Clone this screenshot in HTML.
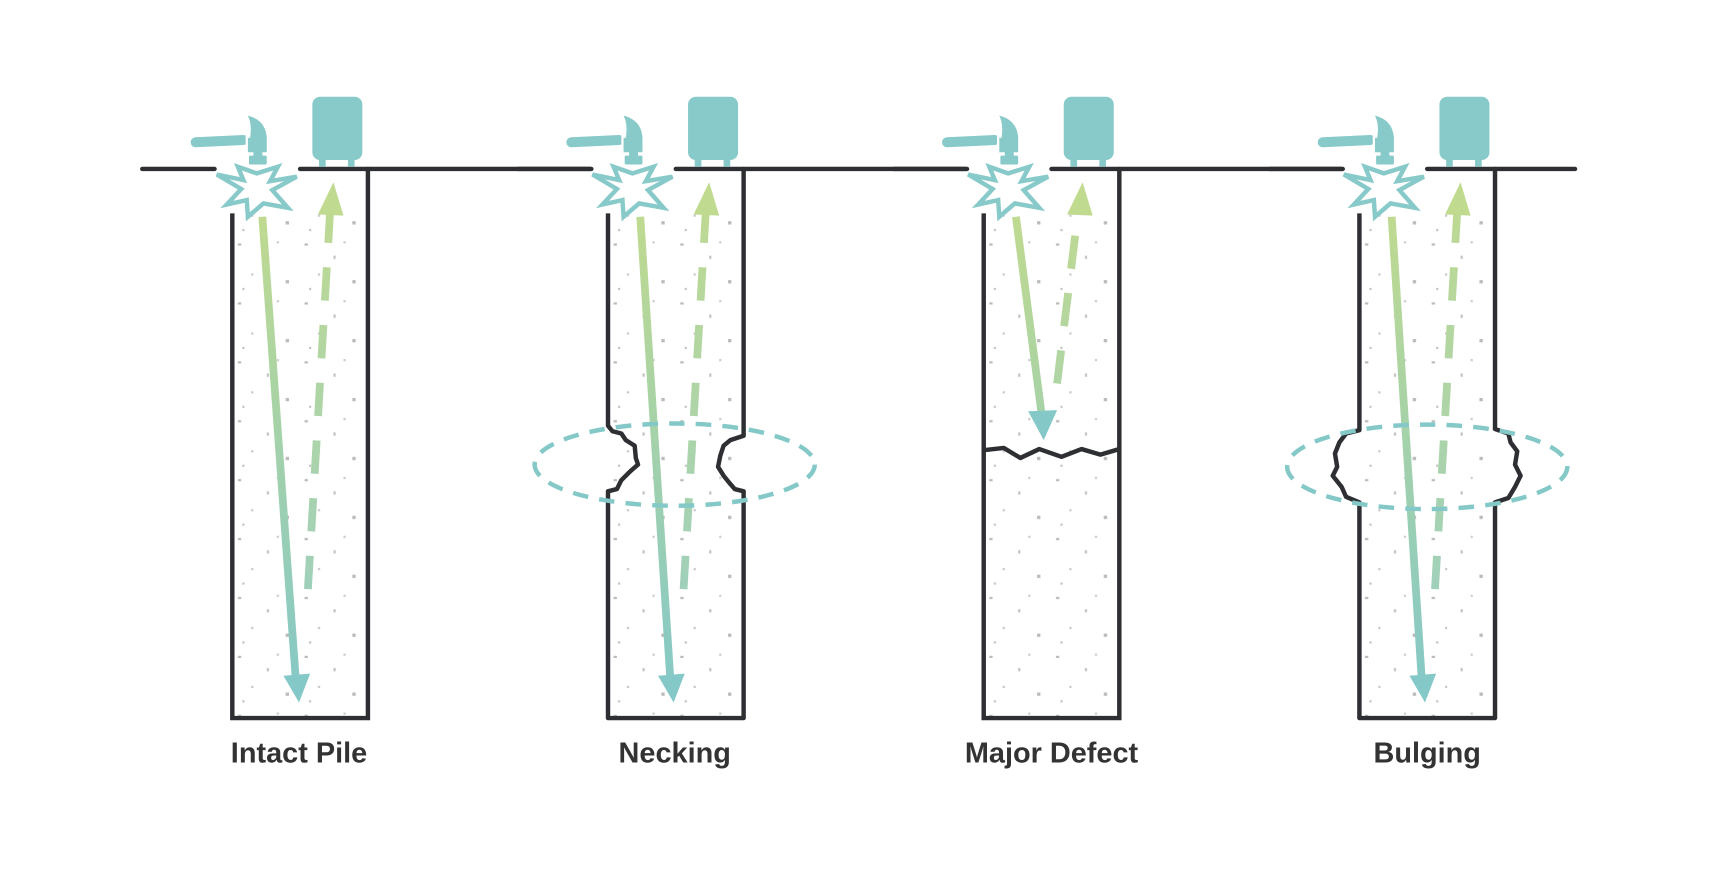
<!DOCTYPE html>
<html><head><meta charset="utf-8"><style>html,body{margin:0;padding:0;background:#fff}svg{display:block}</style></head>
<body>
<svg width="1734" height="892" viewBox="0 0 1560 802.5" preserveAspectRatio="none" xmlns="http://www.w3.org/2000/svg">
<defs>
<linearGradient id="gd" gradientUnits="userSpaceOnUse" x1="0" y1="190" x2="0" y2="630">
<stop offset="0" stop-color="#c0da8f"/><stop offset="1" stop-color="#84c8c8"/></linearGradient>
<linearGradient id="gu" gradientUnits="userSpaceOnUse" x1="0" y1="540" x2="0" y2="160">
<stop offset="0" stop-color="#9fd0bb"/><stop offset="1" stop-color="#c0da8f"/></linearGradient>
<pattern id="sp" width="60" height="53" patternUnits="userSpaceOnUse">
<rect x="5" y="7" width="3" height="2" fill="#bbb"/><rect x="31" y="18" width="2" height="3" fill="#c4c4c4"/>
<rect x="48" y="40" width="3" height="3" fill="#bbb"/><rect x="17" y="34" width="2" height="2" fill="#c8c8c8"/>
<rect x="40" y="5" width="2" height="2" fill="#ccc"/><rect x="9" y="47" width="2" height="2" fill="#c4c4c4"/>
</pattern>
<g id="top">
<rect x="0" y="192" width="122" height="454" fill="url(#sp)"/>
<line x1="-81" y1="152" x2="-16" y2="152" stroke="#2e2f33" stroke-width="4" stroke-linecap="round"/>
<line x1="61" y1="152" x2="122" y2="152" stroke="#2e2f33" stroke-width="4" stroke-linecap="round"/>
<!-- hammer -->
<line x1="-33" y1="128" x2="10" y2="126" stroke="#88c9c9" stroke-width="9" stroke-linecap="round"/>
<path d="M14,104 Q30,108 31,124 L31,137 L13,137 L13,124 L16,124 Q18,112 14,104 Z" fill="#88c9c9"/>
<rect x="12" y="122" width="2" height="15" fill="#fff"/>
<rect x="19" y="136" width="8" height="5" fill="#88c9c9"/>
<rect x="15" y="140" width="16" height="8" rx="1" fill="#88c9c9"/>
<!-- star -->
<polygon points="-14,157 10,162 5,150 22,156 41,150 34,163 58,159 36,171 50,187 28,183 14,195 13,180 -5,184 8,170" fill="#fff" stroke="#88c9c9" stroke-width="4" stroke-linejoin="miter"/>
<!-- device -->
<rect x="72" y="87" width="45" height="57" rx="7" fill="#88c9c9"/>
<rect x="78" y="140" width="6" height="10" fill="#88c9c9"/><rect x="104" y="140" width="6" height="10" fill="#88c9c9"/>
</g>
</defs>

<g font-family="Liberation Sans, sans-serif" font-weight="bold" font-size="26" fill="#333" text-anchor="middle">
<text x="269" y="686">Intact Pile</text>
<text x="607" y="686">Necking</text>
<text x="946" y="686">Major Defect</text>
<text x="1284" y="686">Bulging</text>
</g>

<!-- Pile 1 -->
<g transform="translate(209,0)">
<use href="#top"/>
<path d="M0,192 V646 H122 V152" fill="none" stroke="#2e2f33" stroke-width="4"/>
<line x1="27" y1="195" x2="57" y2="610" stroke="url(#gd)" stroke-width="7"/>
<polygon points="46,608 70,606 60,632" fill="#84c8c8"/>
<line x1="68" y1="530" x2="88" y2="190" stroke="url(#gu)" stroke-width="7" stroke-dasharray="30,22"/>
<polygon points="77,193 100,194 91,164" fill="#c0da8f"/>
</g>

<!-- Pile 2 Necking -->
<g transform="translate(547,0)">
<use href="#top"/>
<path d="M0,192 V383 L4,388 L12,390 L16,396 L24,401 L25,412 L27,418 L20,424 L12,432 L8,440 L0,442 V646 H122 V442 L114,440 L108,433 L104,428 L99,420 L101,410 L104,401 L110,396 L122,392 V152" fill="none" stroke="#2e2f33" stroke-width="4" stroke-linejoin="round"/>
<line x1="29" y1="195" x2="56" y2="610" stroke="url(#gd)" stroke-width="7"/>
<polygon points="45,608 69,606 59,632" fill="#84c8c8"/>
<line x1="68" y1="530" x2="88" y2="190" stroke="url(#gu)" stroke-width="7" stroke-dasharray="30,22"/>
<polygon points="77,193 100,194 91,164" fill="#c0da8f"/>
<ellipse cx="60" cy="418" rx="126" ry="37" fill="none" stroke="#84c8c8" stroke-width="4" stroke-dasharray="14,10"/>
</g>

<!-- Pile 3 Major defect -->
<g transform="translate(885,0)">
<use href="#top"/>
<path d="M0,192 V646 H122 V152" fill="none" stroke="#2e2f33" stroke-width="4"/>
<path d="M0,405 L18,403 L33,412 L50,404 L70,411 L88,404 L105,409 L122,404" fill="none" stroke="#2e2f33" stroke-width="4" stroke-linejoin="round"/>
<line x1="29" y1="195" x2="52" y2="372" stroke="url(#gd)" stroke-width="7"/>
<polygon points="40,370 66,369 54,396" fill="#84c8c8"/>
<line x1="66" y1="345" x2="85" y2="190" stroke="url(#gu)" stroke-width="7" stroke-dasharray="30,22"/>
<polygon points="75,193 98,194 89,164" fill="#c0da8f"/>
</g>

<!-- Pile 4 Bulging -->
<g transform="translate(1223,0)">
<use href="#top"/>
<path d="M0,192 V387 L-12,390 L-18,398 L-22,408 L-20,420 L-24,428 L-16,438 L-12,447 L0,452 V646 H122 V452 L134,448 L140,438 L145,428 L140,418 L142,406 L136,398 L134,390 L122,386 V152" fill="none" stroke="#2e2f33" stroke-width="4" stroke-linejoin="round"/>
<line x1="29" y1="195" x2="56" y2="610" stroke="url(#gd)" stroke-width="7"/>
<polygon points="45,608 69,606 59,632" fill="#84c8c8"/>
<line x1="68" y1="530" x2="88" y2="190" stroke="url(#gu)" stroke-width="7" stroke-dasharray="30,22"/>
<polygon points="77,193 100,194 91,164" fill="#c0da8f"/>
<ellipse cx="61" cy="420" rx="126" ry="38" fill="none" stroke="#84c8c8" stroke-width="4" stroke-dasharray="14,10"/>
</g>

<!-- ground segments between piles -->
<g stroke="#2e2f33" stroke-width="4" stroke-linecap="round">
<line x1="331" y1="152" x2="532" y2="152"/>
<line x1="669" y1="152" x2="870" y2="152"/>
<line x1="1007" y1="152" x2="1208" y2="152"/>
<line x1="1345" y1="152" x2="1417" y2="152"/>
</g>
</svg>
</body></html>
